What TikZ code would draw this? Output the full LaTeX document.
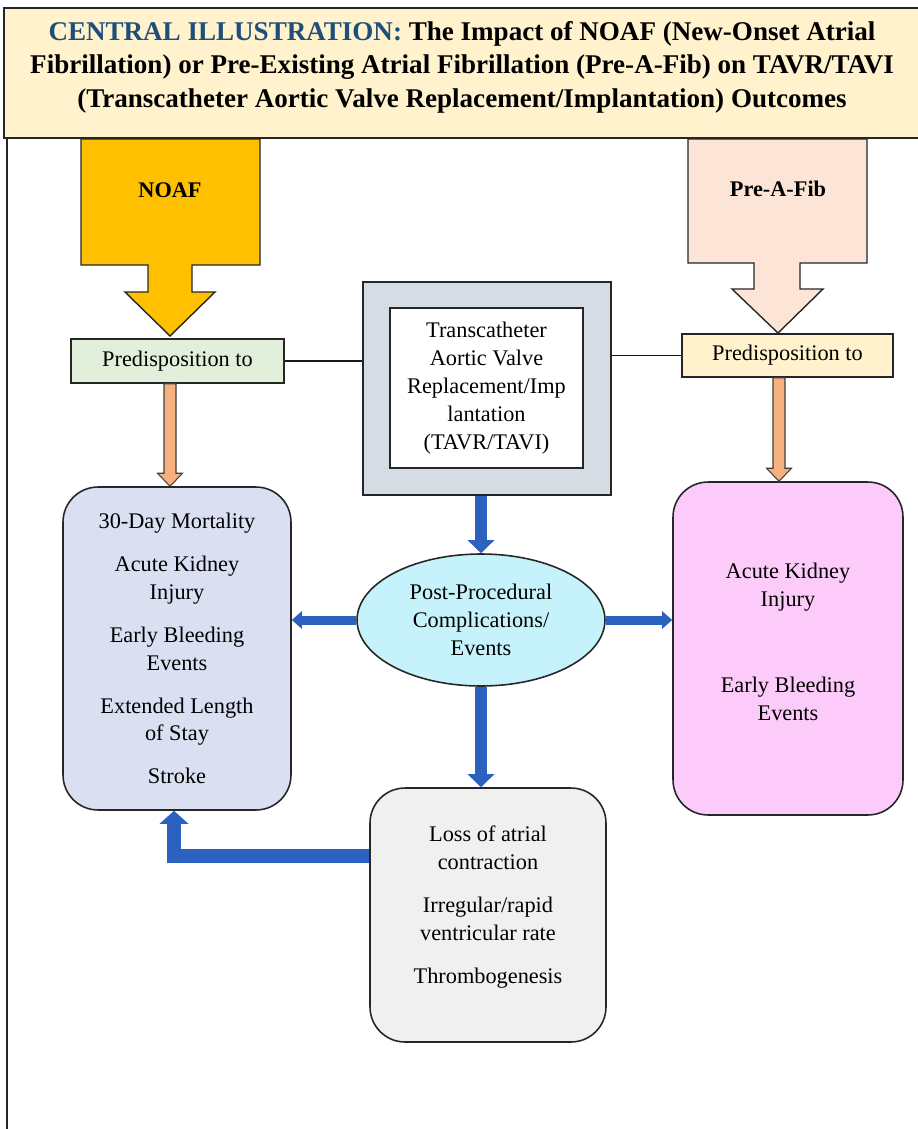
\documentclass[tikz,border=0pt]{standalone}
\usepackage{xcolor}
\usepackage{fontspec}
\setmainfont{Liberation Serif}
\usetikzlibrary{arrows.meta, positioning, shapes.geometric, calc}

\definecolor{titlefill}{HTML}{FFF2CC}
\definecolor{titleblue}{HTML}{1F4E79}
\definecolor{noafc}{HTML}{FFC000}
\definecolor{afibc}{HTML}{FCE4D6}
\definecolor{predgreen}{HTML}{E2EFDA}
\definecolor{predyellow}{HTML}{FFF2CC}
\definecolor{tavrgray}{HTML}{D6DCE4}
\definecolor{postcyan}{HTML}{C6F3FB}
\definecolor{outlav}{HTML}{DAE0F2}
\definecolor{outpink}{HTML}{FDCBFA}
\definecolor{lossgray}{HTML}{F0F0F0}
\definecolor{flowblue}{HTML}{2C62BF}
\definecolor{flowpeach}{HTML}{F6B17F}

\begin{document}
\begin{tikzpicture}[x=0.02cm, y=-0.02cm]
    \tikzstyle{txt} = [font=\fontsize{12.7}{15.9}\selectfont, align=center]
    \tikzstyle{lbl} = [font=\fontsize{12.7}{15.9}\selectfont\bfseries]
    \tikzstyle{block} = [rectangle, draw=black!85, line width=0.9pt, txt, inner sep=0pt]
    \tikzstyle{card} = [block, rounded corners=0.7cm]
    \tikzstyle{bigarrow} = [draw=black!85, line width=0.8pt]
    \tikzstyle{peacharrow} = [fill=flowpeach, draw=black!75, line width=0.6pt]
    \tikzstyle{bluearrow} = [draw=flowblue, line width=0.24cm, -{Triangle[width=0.52cm, length=0.26cm]}]
    \tikzstyle{sidearrow} = [draw=flowblue, line width=0.18cm, -{Triangle[width=0.34cm, length=0.2cm]}]

    \useasboundingbox (0,0) rectangle (918,1129);

    % Title
    \draw[fill=titlefill, draw=black!85, line width=1.2pt] (4,8) rectangle (930,138);
    \node[font=\fontsize{15.4}{19}\selectfont\bfseries, align=center] (title) at (462,67)
        {\textcolor{titleblue}{CENTRAL ILLUSTRATION:} The Impact of NOAF (New-Onset Atrial\\
         Fibrillation) or Pre-Existing Atrial Fibrillation (Pre-A-Fib) on TAVR/TAVI\\
         (Transcatheter Aortic Valve Replacement/Implantation) Outcomes};
    \draw[line width=1.2pt, black!85] (7,138) -- (7,1129);

    % NOAF
    \draw[bigarrow, fill=noafc] (81,139) -- (260,139) -- (260,265) -- (192,265) -- (192,292)
        -- (215,292) -- (170,336) -- (125,292) -- (148,292) -- (148,265) -- (81,265) -- cycle;
    \coordinate (noafTip) at (170,336);
    \node[lbl] (noaf) at (170,190) {NOAF};

    % Pre-A-Fib
    \draw[bigarrow, fill=afibc] (688,139) -- (867,139) -- (867,263) -- (800,263) -- (800,289)
        -- (823,289) -- (778,333) -- (732,289) -- (754,289) -- (754,263) -- (688,263) -- cycle;
    \coordinate (afibTip) at (779,333);
    \node[lbl] (afib) at (778,189) {Pre-A-Fib};

    % Predisposition
    \node[block, fill=predgreen, minimum width=4.26cm, minimum height=0.88cm] (predL) at (177.5,361) {Predisposition to};
    \node[block, fill=predyellow, minimum width=4.22cm, minimum height=0.86cm] (predR) at (787.5,355.5) {Predisposition to};

    % TAVR/TAVI
    \node[block, fill=tavrgray, minimum width=4.96cm, minimum height=4.26cm] (tavrO) at (487,388.5) {};
    \node[block, fill=white, minimum width=3.86cm, minimum height=3.2cm] (tavrI) at (486.5,388)
        {Transcatheter\\Aortic Valve\\Replacement/Imp\\lantation\\(TAVR/TAVI)};

    % Complications
    \node[ellipse, draw=black!85, line width=0.9pt, fill=postcyan, txt, minimum width=4.96cm, minimum height=2.64cm, inner sep=0pt] (post) at (481,620)
        {Post-Procedural\\Complications/\\Events};

    % Outcomes
    \node[card, fill=outlav, minimum width=4.56cm, minimum height=6.46cm] (ctxL) at (177,648.5)
        {30-Day Mortality\\[0.3cm]Acute Kidney\\Injury\\[0.3cm]Early Bleeding\\Events\\[0.3cm]Extended Length\\of Stay\\[0.3cm]Stroke};
    \node[card, fill=outpink, minimum width=4.6cm, minimum height=6.66cm] (cmpR) at (788,648.5) {};
    \node[txt] (cmpRtxt) at (788,642) {Acute Kidney\\Injury\\[1.16cm]Early Bleeding\\Events};

    % Mechanisms
    \node[card, fill=lossgray, minimum width=4.72cm, minimum height=5.08cm] (lossBox) at (488,915) {};
    \node[txt] (lossTxt) at (488,907) {Loss of atrial\\contraction\\[0.32cm]Irregular/rapid\\ventricular rate\\[0.3cm]Thrombogenesis};

    % Lines
    \draw[line width=1.1pt, black!90] (predL.east) -- (predL.east -| tavrO.west);
    \draw[line width=1.1pt, black!90] (tavrO.east |- predR.west) -- (predR.west);

    % Peach arrows
    \draw[peacharrow] ($(noafTip |- predL.south)+(-6,0)$) -- ($(noafTip |- ctxL.north)+(-6,-13)$) -- ++(-6.5,0)
        -- (noafTip |- ctxL.north) -- ++(12.5,-13) -- ++(-6.5,0) -- ($(noafTip |- predL.south)+(6,0)$) -- cycle;
    \draw[peacharrow] ($(afibTip |- predR.south)+(-6,0)$) -- ($(afibTip |- cmpR.north)+(-6,-13)$) -- ++(-6.5,0)
        -- (afibTip |- cmpR.north) -- ++(12.5,-13) -- ++(-6.5,0) -- ($(afibTip |- predR.south)+(6,0)$) -- cycle;

    % Blue arrows
    \draw[bluearrow] (post.north |- tavrO.south) -- (post.north);
    \draw[sidearrow] (post.west) -- (post.west -| ctxL.east);
    \draw[sidearrow] (post.east) -- (post.east -| cmpR.west);
    \draw[bluearrow] (post.south) -- (post.south |- lossBox.north);
    \draw[bluearrow, line width=0.28cm, -{Triangle[width=0.56cm, length=0.26cm]}] ($(lossBox.west)+(0,-59)$) -| ($(ctxL.south)+(-3,0)$);
\end{tikzpicture}
\end{document}
